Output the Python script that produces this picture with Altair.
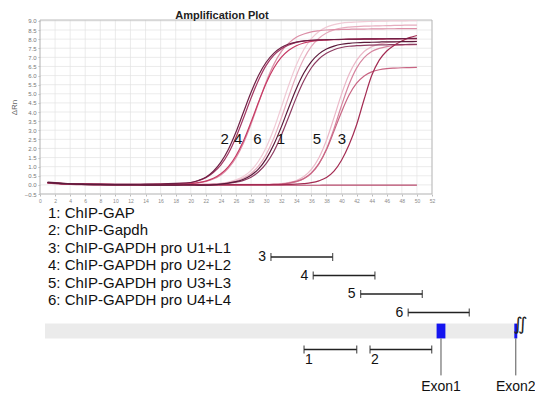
import altair as alt
import pandas as pd

# ---------------- amplification plot data ----------------
CYCLES = [1, 2, 4, 6, 8, 10, 12, 14, 16, 18,
          20, 21, 22, 23, 24, 25, 26, 27, 28, 29,
          30, 31, 32, 33, 34, 35, 36, 37, 38, 39,
          40, 41, 42, 43, 44, 45, 46, 47, 48, 49, 50]

RN_6A = [0.12, 0.09, 0.05, 0.03, 0.02, 0.02, 0.02, 0.02, 0.02, 0.03,
         0.03, 0.03, 0.04, 0.06, 0.09, 0.16, 0.28, 0.47, 0.80, 1.31,
         2.05, 3.05, 4.25, 5.48, 6.58, 7.43, 8.03, 8.42, 8.66, 8.80,
         8.88, 8.92, 8.94, 8.96, 8.97, 8.98, 8.99, 9.00, 9.00, 9.01, 9.01]
RN_6B = [0.10, 0.08, 0.05, 0.03, 0.02, 0.02, 0.02, 0.02, 0.02, 0.02,
         0.02, 0.02, 0.03, 0.04, 0.07, 0.13, 0.22, 0.38, 0.63, 1.04,
         1.67, 2.55, 3.65, 4.86, 5.99, 6.92, 7.60, 8.05, 8.34, 8.51,
         8.61, 8.66, 8.69, 8.71, 8.72, 8.73, 8.74, 8.75, 8.76, 8.77, 8.77]
RN_5A = [0.13, 0.10, 0.06, 0.04, 0.03, 0.03, 0.03, 0.03, 0.03, 0.03,
         0.03, 0.03, 0.03, 0.03, 0.03, 0.03, 0.03, 0.03, 0.03, 0.03,
         0.03, 0.04, 0.07, 0.13, 0.24, 0.46, 0.85, 1.49, 2.45, 3.69,
         4.98, 6.07, 6.83, 7.32, 7.58, 7.73, 7.81, 7.85, 7.87, 7.88, 7.89]
RN_4B = [0.11, 0.09, 0.05, 0.04, 0.03, 0.02, 0.02, 0.02, 0.03, 0.04,
         0.06, 0.11, 0.19, 0.32, 0.54, 0.92, 1.49, 2.30, 3.34, 4.51,
         5.65, 6.60, 7.31, 7.78, 8.10, 8.28, 8.40, 8.46, 8.50, 8.52,
         8.53, 8.54, 8.55, 8.55, 8.56, 8.56, 8.57, 8.57, 8.58, 8.58, 8.58]
RN_5B = [0.11, 0.08, 0.05, 0.03, 0.02, 0.02, 0.02, 0.02, 0.02, 0.02,
         0.02, 0.02, 0.02, 0.02, 0.02, 0.02, 0.02, 0.02, 0.02, 0.02,
         0.02, 0.03, 0.05, 0.09, 0.18, 0.34, 0.64, 1.15, 1.97, 3.09,
         4.36, 5.52, 6.41, 6.98, 7.32, 7.49, 7.59, 7.65, 7.67, 7.69, 7.70]
RN_3B = [0.12, 0.09, 0.05, 0.03, 0.02, 0.02, 0.02, 0.02, 0.02, 0.02,
         0.02, 0.02, 0.02, 0.02, 0.02, 0.02, 0.02, 0.02, 0.02, 0.02,
         0.02, 0.03, 0.05, 0.10, 0.19, 0.35, 0.66, 1.17, 1.93, 2.95,
         4.00, 4.93, 5.58, 5.98, 6.20, 6.32, 6.38, 6.41, 6.43, 6.44, 6.45]
RN_NTC = [0.10, 0.07, 0.03, 0.01, 0.00, -0.01, -0.01, -0.01, -0.01, -0.01,
          -0.01, -0.01, -0.01, -0.01, -0.01, -0.01, -0.01, -0.01, -0.01, -0.01,
          -0.01, -0.01, -0.02, -0.02, -0.02, -0.02, -0.02, -0.02, -0.01, -0.01,
          -0.01, -0.01, -0.01, -0.01, -0.01, -0.01, -0.01, -0.01, -0.01, -0.01, -0.01]
RN_2B = [0.13, 0.10, 0.06, 0.04, 0.03, 0.03, 0.03, 0.03, 0.04, 0.07,
         0.12, 0.23, 0.40, 0.68, 1.10, 1.74, 2.62, 3.67, 4.77, 5.76,
         6.56, 7.11, 7.46, 7.68, 7.82, 7.89, 7.93, 7.95, 7.97, 7.98,
         7.98, 7.99, 7.99, 8.00, 8.00, 8.00, 8.01, 8.01, 8.02, 8.02, 8.02]
RN_4A = [0.12, 0.10, 0.06, 0.04, 0.03, 0.02, 0.02, 0.02, 0.03, 0.04,
         0.07, 0.12, 0.21, 0.36, 0.61, 1.00, 1.60, 2.42, 3.45, 4.55,
         5.58, 6.40, 7.00, 7.39, 7.64, 7.79, 7.88, 7.93, 7.95, 7.97,
         7.98, 7.99, 8.00, 8.00, 8.01, 8.01, 8.02, 8.02, 8.02, 8.03, 8.03]
RN_1B = [0.12, 0.09, 0.05, 0.03, 0.02, 0.02, 0.02, 0.02, 0.02, 0.02,
         0.02, 0.02, 0.02, 0.03, 0.05, 0.09, 0.15, 0.25, 0.42, 0.72,
         1.17, 1.82, 2.71, 3.74, 4.79, 5.71, 6.43, 6.91, 7.22, 7.42,
         7.54, 7.61, 7.64, 7.66, 7.67, 7.68, 7.69, 7.70, 7.70, 7.71, 7.71]
RN_3A = [0.13, 0.10, 0.06, 0.04, 0.03, 0.02, 0.02, 0.02, 0.02, 0.02,
         0.02, 0.02, 0.02, 0.02, 0.02, 0.02, 0.02, 0.02, 0.02, 0.02,
         0.02, 0.02, 0.02, 0.03, 0.04, 0.07, 0.12, 0.22, 0.40, 0.75,
         1.35, 2.20, 3.30, 4.70, 6.00, 6.85, 7.35, 7.67, 7.90, 8.08, 8.20]
RN_2A = [0.15, 0.12, 0.07, 0.05, 0.04, 0.03, 0.03, 0.04, 0.05, 0.08,
         0.13, 0.24, 0.42, 0.75, 1.25, 1.96, 2.90, 4.00, 5.08, 6.02,
         6.73, 7.22, 7.54, 7.73, 7.84, 7.90, 7.94, 7.96, 7.97, 7.98,
         7.99, 8.00, 8.00, 8.01, 8.01, 8.02, 8.02, 8.03, 8.03, 8.04, 8.04]
RN_1A = [0.13, 0.10, 0.05, 0.02, 0.01, 0.00, 0.00, -0.01, -0.01, -0.01,
         0.00, -0.01, -0.01, 0.00, 0.04, 0.10, 0.18, 0.31, 0.53, 0.88,
         1.43, 2.20, 3.17, 4.25, 5.28, 6.14, 6.77, 7.19, 7.46, 7.62,
         7.72, 7.77, 7.80, 7.82, 7.83, 7.84, 7.85, 7.85, 7.86, 7.86, 7.87]

CURVE_NAMES = ["6a", "6b", "5a", "4b", "5b", "3b", "ntc", "2b", "4a", "1b", "3a", "2a", "1a"]
CURVE_VALUES = [RN_6A, RN_6B, RN_5A, RN_4B, RN_5B, RN_3B, RN_NTC, RN_2B, RN_4A, RN_1B, RN_3A, RN_2A, RN_1A]
CURVE_COLORS = ["#f0cbd6", "#e6acbe", "#ebb8c8", "#dc8fa7", "#d6859f", "#c86583", "#b84a6c",
                "#a33763", "#c63a64", "#8e3c62", "#a32b52", "#6f2045", "#5b1a3b"]

X_TICKS = [0, 2, 4, 6, 8, 10, 12, 14, 16, 18, 20, 22, 24, 26, 28, 30, 32, 34, 36, 38,
           40, 42, 44, 46, 48, 50, 52]
Y_TICKS = [-0.5, 0.0, 0.5, 1.0, 1.5, 2.0, 2.5, 3.0, 3.5, 4.0, 4.5, 5.0, 5.5, 6.0,
           6.5, 7.0, 7.5, 8.0, 8.5, 9.0]
X_MIN, X_MAX = 0, 52
Y_MIN, Y_MAX = -0.5, 9.05

PLOT_LABELS = ["2", "4", "6", "1", "5", "3"]
PLOT_LABEL_CYCLE = [24.5, 26.3, 28.85, 31.95, 36.75, 40.05]
PLOT_LABEL_RN = [2.5, 2.5, 2.5, 2.5, 2.5, 2.5]

# ---------------- legend / gene diagram data ----------------
LEGEND_TEXT = ["1: ChIP-GAP", "2: ChIP-Gapdh", "3: ChIP-GAPDH pro U1+L1",
               "4: ChIP-GAPDH pro U2+L2", "5: ChIP-GAPDH pro U3+L3", "6: ChIP-GAPDH pro U4+L4"]
LEGEND_INDEX = [1, 2, 3, 4, 5, 6]

AMP_NAMES = ["3", "4", "5", "6", "1", "2"]
AMP_START = [-846, -630, -388, -145, -677, -340]
AMP_END = [-531, -315, -73, 167, -408, -25]
AMP_TRACK = [1, 2, 3, 4, 6, 6]

GENE_START, GENE_END = -2000, 412
EXON_NAMES = ["Exon1", "Exon2"]
EXON_START = [0, 397]
EXON_END = [45, 412]
BREAK_MARK = "∬"

# ---------------- layout ----------------
VIEW_W, VIEW_H = 527, 385
FONT = "Liberation Sans"

amp_x = alt.Scale(domain=[X_MIN, X_MAX], range=[32, 424], nice=False, zero=False)
amp_y = alt.Scale(domain=[Y_MIN, Y_MAX], range=[186, 12], nice=False, zero=False)

AX_X = alt.Axis(values=X_TICKS, orient="bottom", offset=186 - VIEW_H, title=None,
                labelFontSize=5, labelColor="#8a8a8a", tickSize=2, tickColor="#bbbbbb",
                domain=False, grid=False, labelPadding=2, labelFlush=False)
AX_Y = alt.Axis(values=Y_TICKS, orient="left", offset=-32, format=".1f", title="ΔRn",
                labelFontSize=6, labelColor="#777777", tickSize=2, tickColor="#bbbbbb",
                domain=False, grid=False, labelPadding=2, titleFontSize=8,
                titleFontWeight="normal", titleColor="#666666", titlePadding=6)

rows = []
for name, vals in zip(CURVE_NAMES, CURVE_VALUES):
    for c, v in zip(CYCLES, vals):
        rows.append({"curve": name, "cycle": c, "rn": v})
df_lines = pd.DataFrame(rows)

vgrid = alt.Chart(pd.DataFrame({"c": X_TICKS, "lo": Y_MIN, "hi": Y_MAX})).mark_rule(
    color="#e3e3e3", strokeWidth=0.7
).encode(
    x=alt.X("c:Q", scale=amp_x, axis=AX_X),
    y=alt.Y("lo:Q", scale=amp_y, axis=AX_Y),
    y2="hi:Q",
)
hgrid = alt.Chart(pd.DataFrame({"v": Y_TICKS, "lo": X_MIN, "hi": X_MAX})).mark_rule(
    color="#e3e3e3", strokeWidth=0.7
).encode(
    y=alt.Y("v:Q", scale=amp_y, axis=AX_Y),
    x=alt.X("lo:Q", scale=amp_x, axis=AX_X),
    x2="hi:Q",
)
border = alt.Chart(pd.DataFrame({"x0": [X_MIN], "x1": [X_MAX], "y0": [Y_MIN], "y1": [Y_MAX]})).mark_rect(
    fill="transparent", stroke="#b5b5b5", strokeWidth=0.9
).encode(
    x=alt.X("x0:Q", scale=amp_x, axis=AX_X), x2="x1:Q",
    y=alt.Y("y0:Q", scale=amp_y, axis=AX_Y), y2="y1:Q",
)

lines = alt.Chart(df_lines).mark_line(strokeWidth=1.2, interpolate="monotone").encode(
    x=alt.X("cycle:Q", scale=amp_x, axis=AX_X),
    y=alt.Y("rn:Q", scale=amp_y, axis=AX_Y),
    color=alt.Color("curve:N", scale=alt.Scale(domain=CURVE_NAMES, range=CURVE_COLORS), legend=None),
    detail="curve:N",
)

plot_labels = alt.Chart(pd.DataFrame({"t": PLOT_LABELS, "c": PLOT_LABEL_CYCLE, "v": PLOT_LABEL_RN})).mark_text(
    fontSize=15, font=FONT, color="#111111", baseline="middle"
).encode(
    x=alt.X("c:Q", scale=amp_x, axis=AX_X),
    y=alt.Y("v:Q", scale=amp_y, axis=AX_Y),
    text="t:N",
)

title = alt.Chart(pd.DataFrame({"t": ["Amplification Plot"]})).mark_text(
    fontSize=11, fontWeight="bold", font=FONT, color="#222222", baseline="alphabetic", align="center"
).encode(x=alt.value(214), y=alt.value(10.5), text="t:N")

amp = alt.layer(vgrid, hgrid, border, lines, plot_labels, title)

# ---------------- diagram ----------------
dx = alt.Scale(domain=[-2000, 450], range=[37, 516.7], nice=False, zero=False)
dy = alt.Scale(domain=[1, 8], range=[249, 378.5], nice=False, zero=False)

amp_df = pd.DataFrame({"name": AMP_NAMES, "s": AMP_START, "e": AMP_END, "track": AMP_TRACK})

gene_bar = alt.Chart(pd.DataFrame({"s": [GENE_START], "e": [GENE_END], "t0": [4.6], "t1": [5.4]})).mark_rect(
    color="#ebebeb"
).encode(
    x=alt.X("s:Q", scale=dx, axis=None), x2="e:Q",
    y=alt.Y("t0:Q", scale=dy, axis=None), y2="t1:Q",
)
exon_df = pd.DataFrame({"name": EXON_NAMES, "s": EXON_START, "e": EXON_END})
exons = alt.Chart(exon_df).transform_calculate(t0="4.6", t1="5.4").mark_rect(color="#1414f0").encode(
    x=alt.X("s:Q", scale=dx, axis=None), x2="e:Q",
    y=alt.Y("t0:Q", scale=dy, axis=None), y2="t1:Q",
)
stems = alt.Chart(exon_df).transform_calculate(
    mid="(datum.s + datum.e) / 2", t0="5.4", t1="7.4"
).mark_rule(color="#555555", strokeWidth=1).encode(
    x=alt.X("mid:Q", scale=dx, axis=None),
    y=alt.Y("t0:Q", scale=dy, axis=None), y2="t1:Q",
)
exon_labels = alt.Chart(exon_df).transform_calculate(
    mid="(datum.s + datum.e) / 2", t="8"
).mark_text(fontSize=14, font=FONT, color="#111111", baseline="middle").encode(
    x=alt.X("mid:Q", scale=dx, axis=None),
    y=alt.Y("t:Q", scale=dy, axis=None),
    text="name:N",
)
squiggle = alt.Chart(pd.DataFrame({"s": [EXON_END[1]], "t": [4.65], "g": [BREAK_MARK]})).mark_text(
    fontSize=18, font="DejaVu Sans", color="#222222",
    baseline="middle", align="center", dx=3
).encode(
    x=alt.X("s:Q", scale=dx, axis=None),
    y=alt.Y("t:Q", scale=dy, axis=None),
    text="g:N",
)

amp_rules = alt.Chart(amp_df).mark_rule(color="#222222", strokeWidth=1.3).encode(
    x=alt.X("s:Q", scale=dx, axis=None), x2="e:Q",
    y=alt.Y("track:Q", scale=dy, axis=None),
)
amp_caps = alt.Chart(amp_df).transform_fold(["s", "e"], as_=["end", "pos"]).mark_tick(
    orient="vertical", size=8, thickness=1.3, color="#222222"
).encode(
    x=alt.X("pos:Q", scale=dx, axis=None),
    y=alt.Y("track:Q", scale=dy, axis=None),
)
amp_labels_left = alt.Chart(amp_df).transform_filter("datum.track < 5").mark_text(
    fontSize=14, font=FONT, color="#111111", align="right", baseline="middle", dx=-5
).encode(
    x=alt.X("s:Q", scale=dx, axis=None),
    y=alt.Y("track:Q", scale=dy, axis=None),
    text="name:N",
)
amp_labels_below = alt.Chart(amp_df).transform_filter("datum.track > 5").transform_calculate(
    lt="datum.track + 0.55"
).mark_text(
    fontSize=14, font=FONT, color="#111111", align="left", baseline="middle", dx=1
).encode(
    x=alt.X("s:Q", scale=dx, axis=None),
    y=alt.Y("lt:Q", scale=dy, axis=None),
    text="name:N",
)

diag = alt.layer(gene_bar, exons, stems, exon_labels, squiggle, amp_rules, amp_caps,
                 amp_labels_left, amp_labels_below)

legend = alt.Chart(pd.DataFrame({"i": LEGEND_INDEX, "t": LEGEND_TEXT})).mark_text(
    fontSize=15, font=FONT, color="#111111", align="left", baseline="middle"
).encode(
    x=alt.value(40),
    y=alt.Y("i:Q", scale=alt.Scale(domain=[1, 6], range=[205, 292], nice=False, zero=False), axis=None),
    text="t:N",
)

chart = alt.layer(amp, diag, legend).resolve_scale(
    x="independent", y="independent"
).properties(
    width=VIEW_W, height=VIEW_H, autosize=alt.AutoSizeParams(type="none"), padding=0,
    background="white",
).configure(font=FONT).configure_view(strokeWidth=0)

chart.save("out.html", embed_options={"renderer": "svg", "actions": False})
